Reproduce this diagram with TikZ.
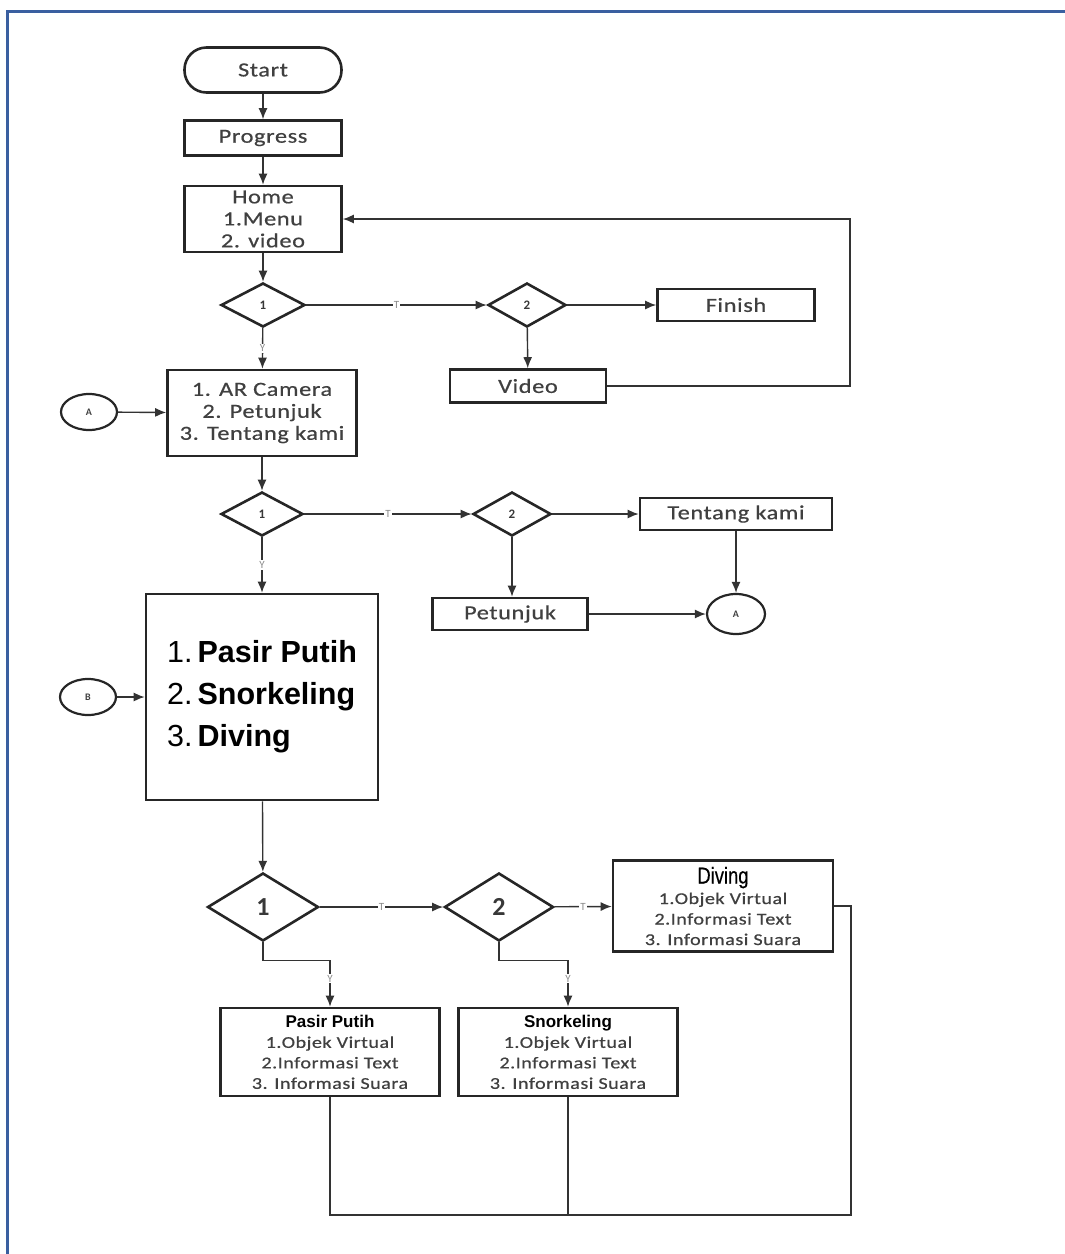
\documentclass[tikz,border=0pt]{standalone}
\usepackage{fontspec}
\setmainfont{Carlito}
\newfontfamily\boxfont[FakeStretch=1.22, LetterSpace=3, FakeBold=0.6]{Carlito}
\newfontfamily\arialfont{Liberation Sans}
\newfontfamily\narrowfont[FakeStretch=0.8, FakeBold=0.4]{Liberation Sans}
\usetikzlibrary{shapes.geometric,arrows.meta}

\tikzset{
	box/.style={draw=black!85, line width=2.6pt, rectangle, inner sep=0pt, text=black!75, align=center, font=\boxfont\fontsize{20}{22}\selectfont},
	subbox/.style={box, minimum width=219, minimum height=88, font=\boxfont\fontsize{16.5}{20.5}\selectfont},
	terminal/.style={box, rounded corners=22pt, minimum width=157, minimum height=45},
	decision/.style={draw=black!85, line width=2.6pt, diamond, inner sep=0pt, text=black!78, font=\bfseries\fontsize{13}{13}\selectfont},
	connector/.style={draw=black!85, line width=2.2pt, ellipse, inner sep=0pt, minimum width=56, minimum height=36, text=black!75, font=\bfseries\fontsize{10}{10}\selectfont},
	flow/.style={draw=black!80, line width=1.4pt, -{Latex[length=11pt,width=9pt]}},
	plain/.style={draw=black!80, line width=1.4pt},
	yes/.style={fill=white, inner sep=1pt, text=black!45, font=\fontsize{11}{11}\selectfont},
	frameline/.style={draw={rgb,255:red,58;green,95;blue,160}, line width=3pt}
}

\begin{document}
\begin{tikzpicture}[x=1pt, y=-1pt]
	\useasboundingbox (0,0) rectangle (1065,1254);
	\draw[frameline] (1065,11) -- (7,11) -- (7,1254);

	% top part
	\node[terminal] (start)at(263, 70) {Start};
	\node[box, minimum width=157, minimum height=35] (progress)at(263, 138) {Progress};
	\node[box, minimum width=157, minimum height=66] (home)at(263, 219) {Home\\1.Menu\\2. video};
	\node[decision, minimum width=84, minimum height=44] (dhome1)at(263, 305) {1};
	\node[decision, minimum width=78, minimum height=44] (dhome2)at(527, 305) {2};
	\node[box, minimum width=157, minimum height=32] (finish)at(736, 305) {Finish};
	\node[box, minimum width=156, minimum height=33] (video)at(528, 386) {Video};
	\coordinate (loopR) at (850, 219);

	\draw[flow] (start) -- (progress);
	\draw[flow] (progress) -- (home);
	\draw[flow] (home) -- (dhome1);
	\draw[flow] (dhome1) -- node[yes] {T} (dhome2);
	\draw[flow] (dhome2) -- (finish);
	\draw[flow] (dhome2) -- (video);
	\draw[flow] (video.east) -| (loopR) -- (home.east);

	% menu
	\node[box, minimum width=189, minimum height=86] (menu)at(262, 413) {1. AR Camera\\2. Petunjuk\\3. Tentang kami};
	\node[connector] (conA)at(89, 412) {A};
	\node[decision, minimum width=82, minimum height=44] (dmenu1)at(262, 514) {1};
	\node[decision, minimum width=78, minimum height=44] (dmenu2)at(512, 514) {2};
	\node[box, minimum width=192, minimum height=32] (tentang)at(736, 514) {Tentang kami};
	\node[box, minimum width=155, minimum height=32] (petunjuk)at(510, 614) {Petunjuk};
	\node[connector, minimum width=58, minimum height=40] (conA2)at(736, 614) {A};

	\draw[flow] (dhome1) -- node[yes] {Y} (menu);
	\draw[flow] (conA) -- (menu);
	\draw[flow] (menu) -- (dmenu1);
	\draw[flow] (dmenu1) -- node[yes] {T} (dmenu2);
	\draw[flow] (dmenu2) -- (tentang);
	\draw[flow] (dmenu2.south) -- (dmenu2.south |- petunjuk.north);
	\draw[flow] (tentang) -- (conA2);
	\draw[flow] (petunjuk) -- (conA2);

	% places
	\node[box, minimum width=232, minimum height=206, align=left, text=black, font=\arialfont\fontsize{30.5}{42}\selectfont] (places)at(262, 697) {1.\,\textbf{Pasir Putih}\\2.\,\textbf{Snorkeling}\\3.\,\textbf{Diving}};
	\node[connector] (conB)at(88, 697) {B};
	\node[decision, minimum width=111, minimum height=68, font=\bfseries\fontsize{26}{26}\selectfont] (dplace1)at(263, 907) {1};
	\node[decision, minimum width=109, minimum height=68, font=\bfseries\fontsize{26}{26}\selectfont] (dplace2)at(499, 907) {2};
	\node[subbox, minimum width=220, minimum height=91] (diving)at(723, 906) {{\narrowfont\color{black}\fontsize{23}{22}\selectfont Diving}\\1.Objek Virtual\\2.Informasi Text\\3. Informasi Suara};
	\node[subbox] (pasir)at(330, 1052) {{\arialfont\bfseries\color{black}\fontsize{17}{20}\selectfont Pasir Putih}\\1.Objek Virtual\\2.Informasi Text\\3. Informasi Suara};
	\node[subbox] (snork)at(568, 1052) {{\arialfont\bfseries\color{black}\fontsize{17}{20}\selectfont Snorkeling}\\1.Objek Virtual\\2.Informasi Text\\3. Informasi Suara};
	\coordinate (base) at (851, 1215);

	\draw[flow] (dmenu1) -- node[yes] {Y} (places);
	\draw[flow] (conB) -- (places);
	\draw[flow] (places) -- (dplace1);
	\draw[flow] (dplace1) -- node[yes] {T} (dplace2);
	\draw[flow] (dplace2) -- node[yes] {T} (diving);
	\draw[flow] (dplace1.south) -- ++(0, 18) -| node[yes, pos=0.7] {Y} (pasir.north);
	\draw[flow] (dplace2.south) -- ++(0, 18) -| node[yes, pos=0.7] {Y} (snork.north);
	\draw[plain] (diving.east) -| (base) -- (pasir.south |- base) -- (pasir.south);
	\draw[plain] (snork.south) -- (snork.south |- base);
\end{tikzpicture}
\end{document}
